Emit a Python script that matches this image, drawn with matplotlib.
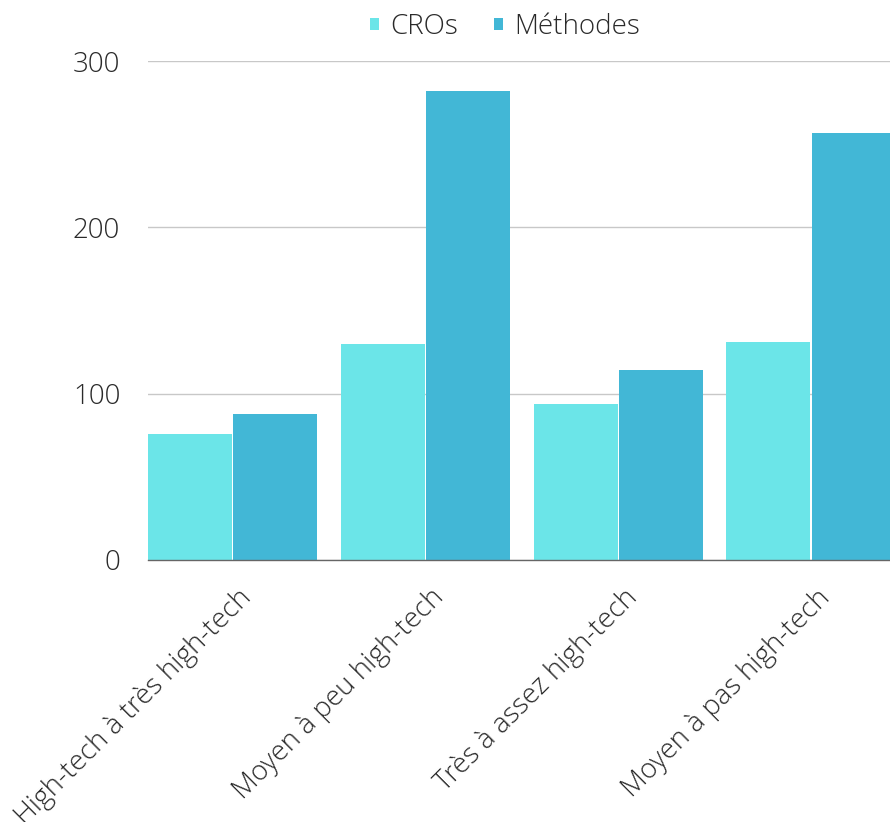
import matplotlib
matplotlib.use("Agg")
import matplotlib.pyplot as plt
import numpy as np

categories = ["High-tech à très high-tech", "Moyen à peu high-tech",
              "Très à assez high-tech", "Moyen à pas high-tech"]
cros = [76, 130, 94, 131]
methodes = [88, 282, 114, 257]
yticks = [0, 100, 200, 300]

plt.rcParams['font.family'] = ['Open Sans', 'DejaVu Sans']
plt.rcParams['font.weight'] = 'light'
text_color = '#2a2a2a'

fig = plt.figure(figsize=(8.9, 8.22), dpi=100)
ax = fig.add_axes([148/890, (822-560)/822, 1 - 148/890, (560-61)/822])

x = np.arange(len(categories))
w = 84/193
gap = 1.5/193
ax.bar(x - w/2 - gap/2, cros, width=w, color='#6BE5E8', label='CROs', zorder=3)
ax.bar(x + w/2 + gap/2, methodes, width=w, color='#42B7D6', label='Méthodes', zorder=3)

ax.set_xlim(-(w + gap/2), (890-232)/193)
ax.set_ylim(0, 300)
ax.set_yticks(yticks)
ax.set_yticklabels([str(v) for v in yticks], fontsize=20, color=text_color, fontweight='light')
ax.tick_params(axis='y', length=0, pad=20)
ax.tick_params(axis='x', length=0, pad=17)
ax.set_xticks(x + 0.025)
ax.set_xticklabels(categories, rotation=45, ha='right', va='top', rotation_mode='anchor',
                   fontsize=20, color=text_color, fontweight='light')

ax.yaxis.grid(True, color='#C8C8C8', linewidth=1, zorder=0)
for s in ['top', 'right', 'left']:
    ax.spines[s].set_visible(False)
ax.spines['bottom'].set_color('#666666')
ax.spines['bottom'].set_linewidth(1)
ax.spines['bottom'].set_zorder(4)

leg = fig.legend(loc='center', bbox_to_anchor=(505/890, 1 - 27/822), ncol=2, frameon=False,
                 fontsize=20, handlelength=0.33, handleheight=0.33, handletextpad=0.4,
                 columnspacing=1.3)
for t in leg.get_texts():
    t.set_color(text_color)

fig.savefig('out.png', dpi=100)
